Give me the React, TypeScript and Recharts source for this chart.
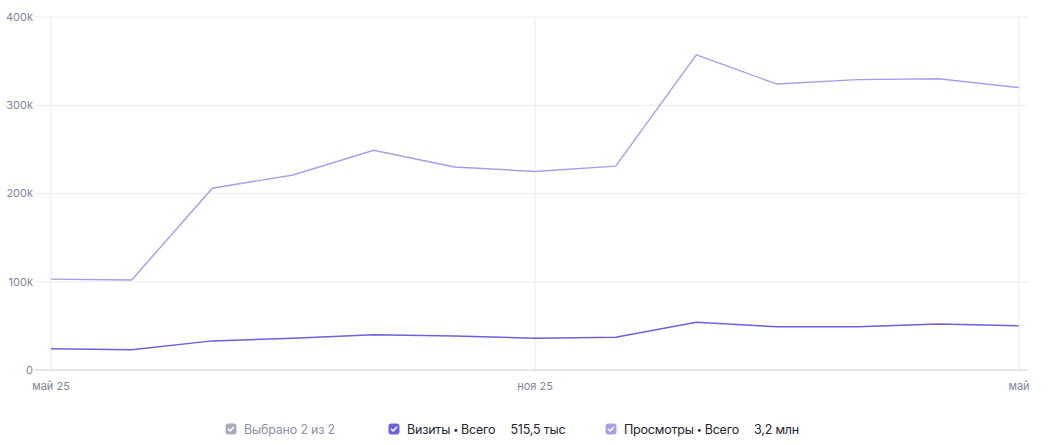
import React from 'react';
import { LineChart, Line, XAxis, YAxis, CartesianGrid, ReferenceLine } from 'recharts';

// Monthly totals, May 2025 – May 2026
const months = [
  'май 25', 'июн 25', 'июл 25', 'авг 25', 'сен 25', 'окт 25', 'ноя 25',
  'дек 25', 'янв 26', 'фев 26', 'мар 26', 'апр 26', 'май 26'
];
const visits = [24000, 23000, 33000, 36000, 40000, 38500, 36000, 37000, 54000, 49000, 49000, 52000, 50000];
const pageViews = [103000, 102000, 206000, 221000, 249000, 230000, 225000, 231000, 357000, 324000, 329000, 330000, 320000];

const xTicks = ['май 25', 'ноя 25', 'май 26'];
const xTickLabels: Record<string, string> = { 'май 25': 'май 25', 'ноя 25': 'ноя 25', 'май 26': 'май' };
const yTicks = [0, 100000, 200000, 300000, 400000];

const VISITS_COLOR = '#6b62d8';
const VIEWS_COLOR = '#a59fe8';
const FONT = 'Inter, "Noto Sans", sans-serif';

const data = months.map((m, i) => ({ month: m, visits: visits[i], views: pageViews[i] }));

const formatY = (v: number) => (v === 0 ? '0' : `${v / 1000}k`);

function Check({ color }: { color: string }) {
  return (
    <svg width="12" height="12" viewBox="0 0 12 12" style={{ marginRight: 7, flex: 'none' }}>
      <rect x="0.5" y="0.5" width="11" height="11" rx="3" fill={color} />
      <path d="M3.4 6.2 L5.2 7.9 L8.6 4.3" stroke="#fff" strokeWidth="1.5" fill="none" strokeLinecap="round" strokeLinejoin="round" />
    </svg>
  );
}

const legendItems = [
  { left: 225, color: '#a9acbf', name: 'Выбрано 2 из 2', metric: '', value: '', muted: true },
  { left: 388, color: VISITS_COLOR, name: 'Визиты', metric: 'Всего', value: '515,5 тыс', muted: false },
  { left: 605, color: VIEWS_COLOR, name: 'Просмотры', metric: 'Всего', value: '3,2 млн', muted: false }
];

export default function App() {
  return (
    <div style={{ position: 'absolute', left: 0, top: 0, width: 1048, height: 445, background: '#fff', fontFamily: FONT }}>
      <LineChart width={1048} height={400} data={data} margin={{ top: 17, right: 20, bottom: 0, left: 0 }}>
        <CartesianGrid stroke="#ebebf1" strokeWidth={1} verticalPoints={[51, 535, 1019]} />
        <XAxis
          dataKey="month"
          ticks={xTicks}
          interval={0}
          tickFormatter={(v: string) => xTickLabels[v] ?? v}
          axisLine={false}
          tickLine={false}
          tickSize={0}
          tickMargin={12}
          height={30}
          padding={{ left: 16, right: 9 }}
          tick={{ fill: '#80849b', fontSize: 11, fontFamily: FONT }}
        />
        <YAxis
          domain={[0, 400000]}
          ticks={yTicks}
          tickFormatter={formatY}
          axisLine={false}
          tickLine={false}
          tickSize={0}
          tickMargin={2}
          width={35}
          tick={{ fill: '#80849b', fontSize: 11, fontFamily: FONT }}
        />
        <ReferenceLine y={0} stroke="#dfe0e8" strokeWidth={1.5} />
        <Line type="linear" dataKey="views" stroke={VIEWS_COLOR} strokeWidth={1.4} dot={false} isAnimationActive={false} />
        <Line type="linear" dataKey="visits" stroke={VISITS_COLOR} strokeWidth={1.5} dot={false} isAnimationActive={false} />
      </LineChart>
      {legendItems.map((it) => (
        <div
          key={it.name}
          style={{ position: 'absolute', left: it.left, top: 421, height: 16, display: 'flex', alignItems: 'center', fontSize: 12.5, letterSpacing: -0.2, whiteSpace: 'nowrap' }}
        >
          <Check color={it.color} />
          <span style={{ color: it.muted ? '#8b8fa6' : '#23252d' }}>
            {it.name}
            {it.metric && (
              <>
                <span style={{ fontSize: 9, margin: '0 3px', position: 'relative', top: -1 }}>•</span>
                {it.metric}
              </>
            )}
          </span>
          {it.value && <span style={{ color: '#23252d', marginLeft: 15 }}>{it.value}</span>}
        </div>
      ))}
    </div>
  );
}
